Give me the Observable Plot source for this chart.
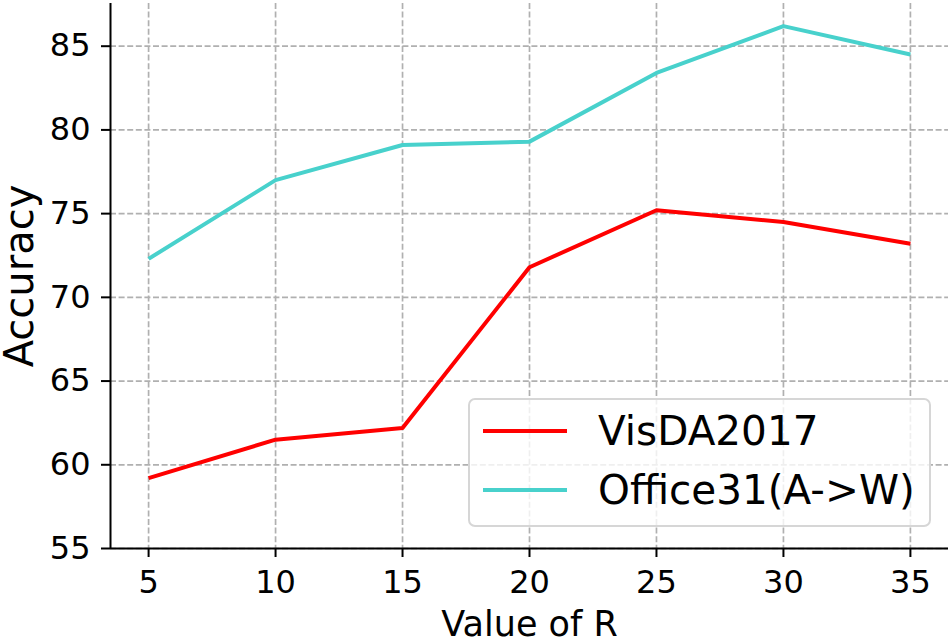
<!DOCTYPE html>
<html><head><meta charset="utf-8">
<script src="https://cdn.jsdelivr.net/npm/d3@7"></script>
<script src="https://cdn.jsdelivr.net/npm/@observablehq/plot@0.6"></script>
<style>
body{margin:0;background:#fff;}
#wrap{position:relative;width:952px;height:639px;font-family:"DejaVu Sans",sans-serif;}
#legend{position:absolute;left:468px;top:398px;width:459px;height:125px;border:2px solid #d6d6d6;border-radius:7px;background:rgba(255,255,255,0.8);}
.row{position:absolute;left:0;height:40px;display:flex;align-items:center;font-size:40.5px;line-height:1;color:#000;white-space:nowrap;}
.sw{display:inline-block;width:84px;height:4px;margin-left:13px;margin-right:31px;}
</style></head><body><div id="wrap"></div>
<script>
const R = [5, 10, 15, 20, 25, 30, 35];
const visda = [59.2, 61.5, 62.2, 71.8, 75.2, 74.5, 73.2];
const office = [72.3, 77.0, 79.1, 79.3, 83.4, 86.2, 84.5];
const seriesNames = ["VisDA2017", "Office31(A->W)"];
const seriesColors = ["#ff0000", "#48d1cc"];
const xTicks = [5, 10, 15, 20, 25, 30, 35];
const yTicks = [55, 60, 65, 70, 75, 80, 85];
const xDomain = [3.5, 36.5];
const yDomain = [55, 87.55];
const xLabel = "Value of R";
const yLabel = "Accuracy";

const rows = [];
R.forEach((r, i) => {
  rows.push({r, v: visda[i], s: seriesNames[0]});
});
R.forEach((r, i) => {
  rows.push({r, v: office[i], s: seriesNames[1]});
});

const grid = {stroke: "#b0b0b0", strokeOpacity: 1, strokeWidth: 1.7, strokeDasharray: "6,2.6"};

const chart = Plot.plot({
  width: 952, height: 639,
  marginLeft: 110, marginRight: 4, marginTop: 3, marginBottom: 91,
  style: {fontFamily: "DejaVu Sans", background: "#fff", color: "#000"},
  x: {domain: xDomain},
  y: {domain: yDomain},
  color: {domain: seriesNames, range: seriesColors},
  marks: [
    Plot.gridX(xTicks, grid),
    Plot.gridY(yTicks, grid),
    Plot.line(rows, {x: "r", y: "v", z: "s", stroke: "s", strokeWidth: 4, strokeLinejoin: "round", strokeLinecap: "butt"}),
    Plot.ruleX([xDomain[0]], {stroke: "#000", strokeWidth: 2}),
    Plot.ruleY([yDomain[0]], {stroke: "#000", strokeWidth: 2}),
    Plot.axisX({ticks: xTicks, tickSize: 9, tickPadding: 13, fontSize: 32, label: null, strokeWidth: 2, tickFormat: d => String(d)}),
    Plot.axisY({ticks: yTicks, tickSize: 9, tickPadding: 11, fontSize: 32, label: null, strokeWidth: 2, tickFormat: d => String(d)}),
    Plot.text([xLabel], {text: d => d, frameAnchor: "bottom", lineAnchor: "bottom", textAnchor: "middle", dy: 87, fontSize: 35, fill: "#000"}),
    Plot.text([yLabel], {text: d => d, frameAnchor: "left", rotate: -90, lineAnchor: "top", textAnchor: "middle", dx: -106, fontSize: 40, fill: "#000"})
  ]
});

const wrap = document.getElementById("wrap");
wrap.appendChild(chart);
const lg = document.createElement("div");
lg.id = "legend";
seriesNames.forEach((n, i) => {
  const row = document.createElement("div");
  row.className = "row";
  row.style.top = (i === 0 ? 11 : 70) + "px";
  const sw = document.createElement("span");
  sw.className = "sw";
  sw.style.background = seriesColors[i];
  const t = document.createElement("span");
  t.textContent = n;
  row.appendChild(sw);
  row.appendChild(t);
  lg.appendChild(row);
});
wrap.appendChild(lg);
</script></body></html>
